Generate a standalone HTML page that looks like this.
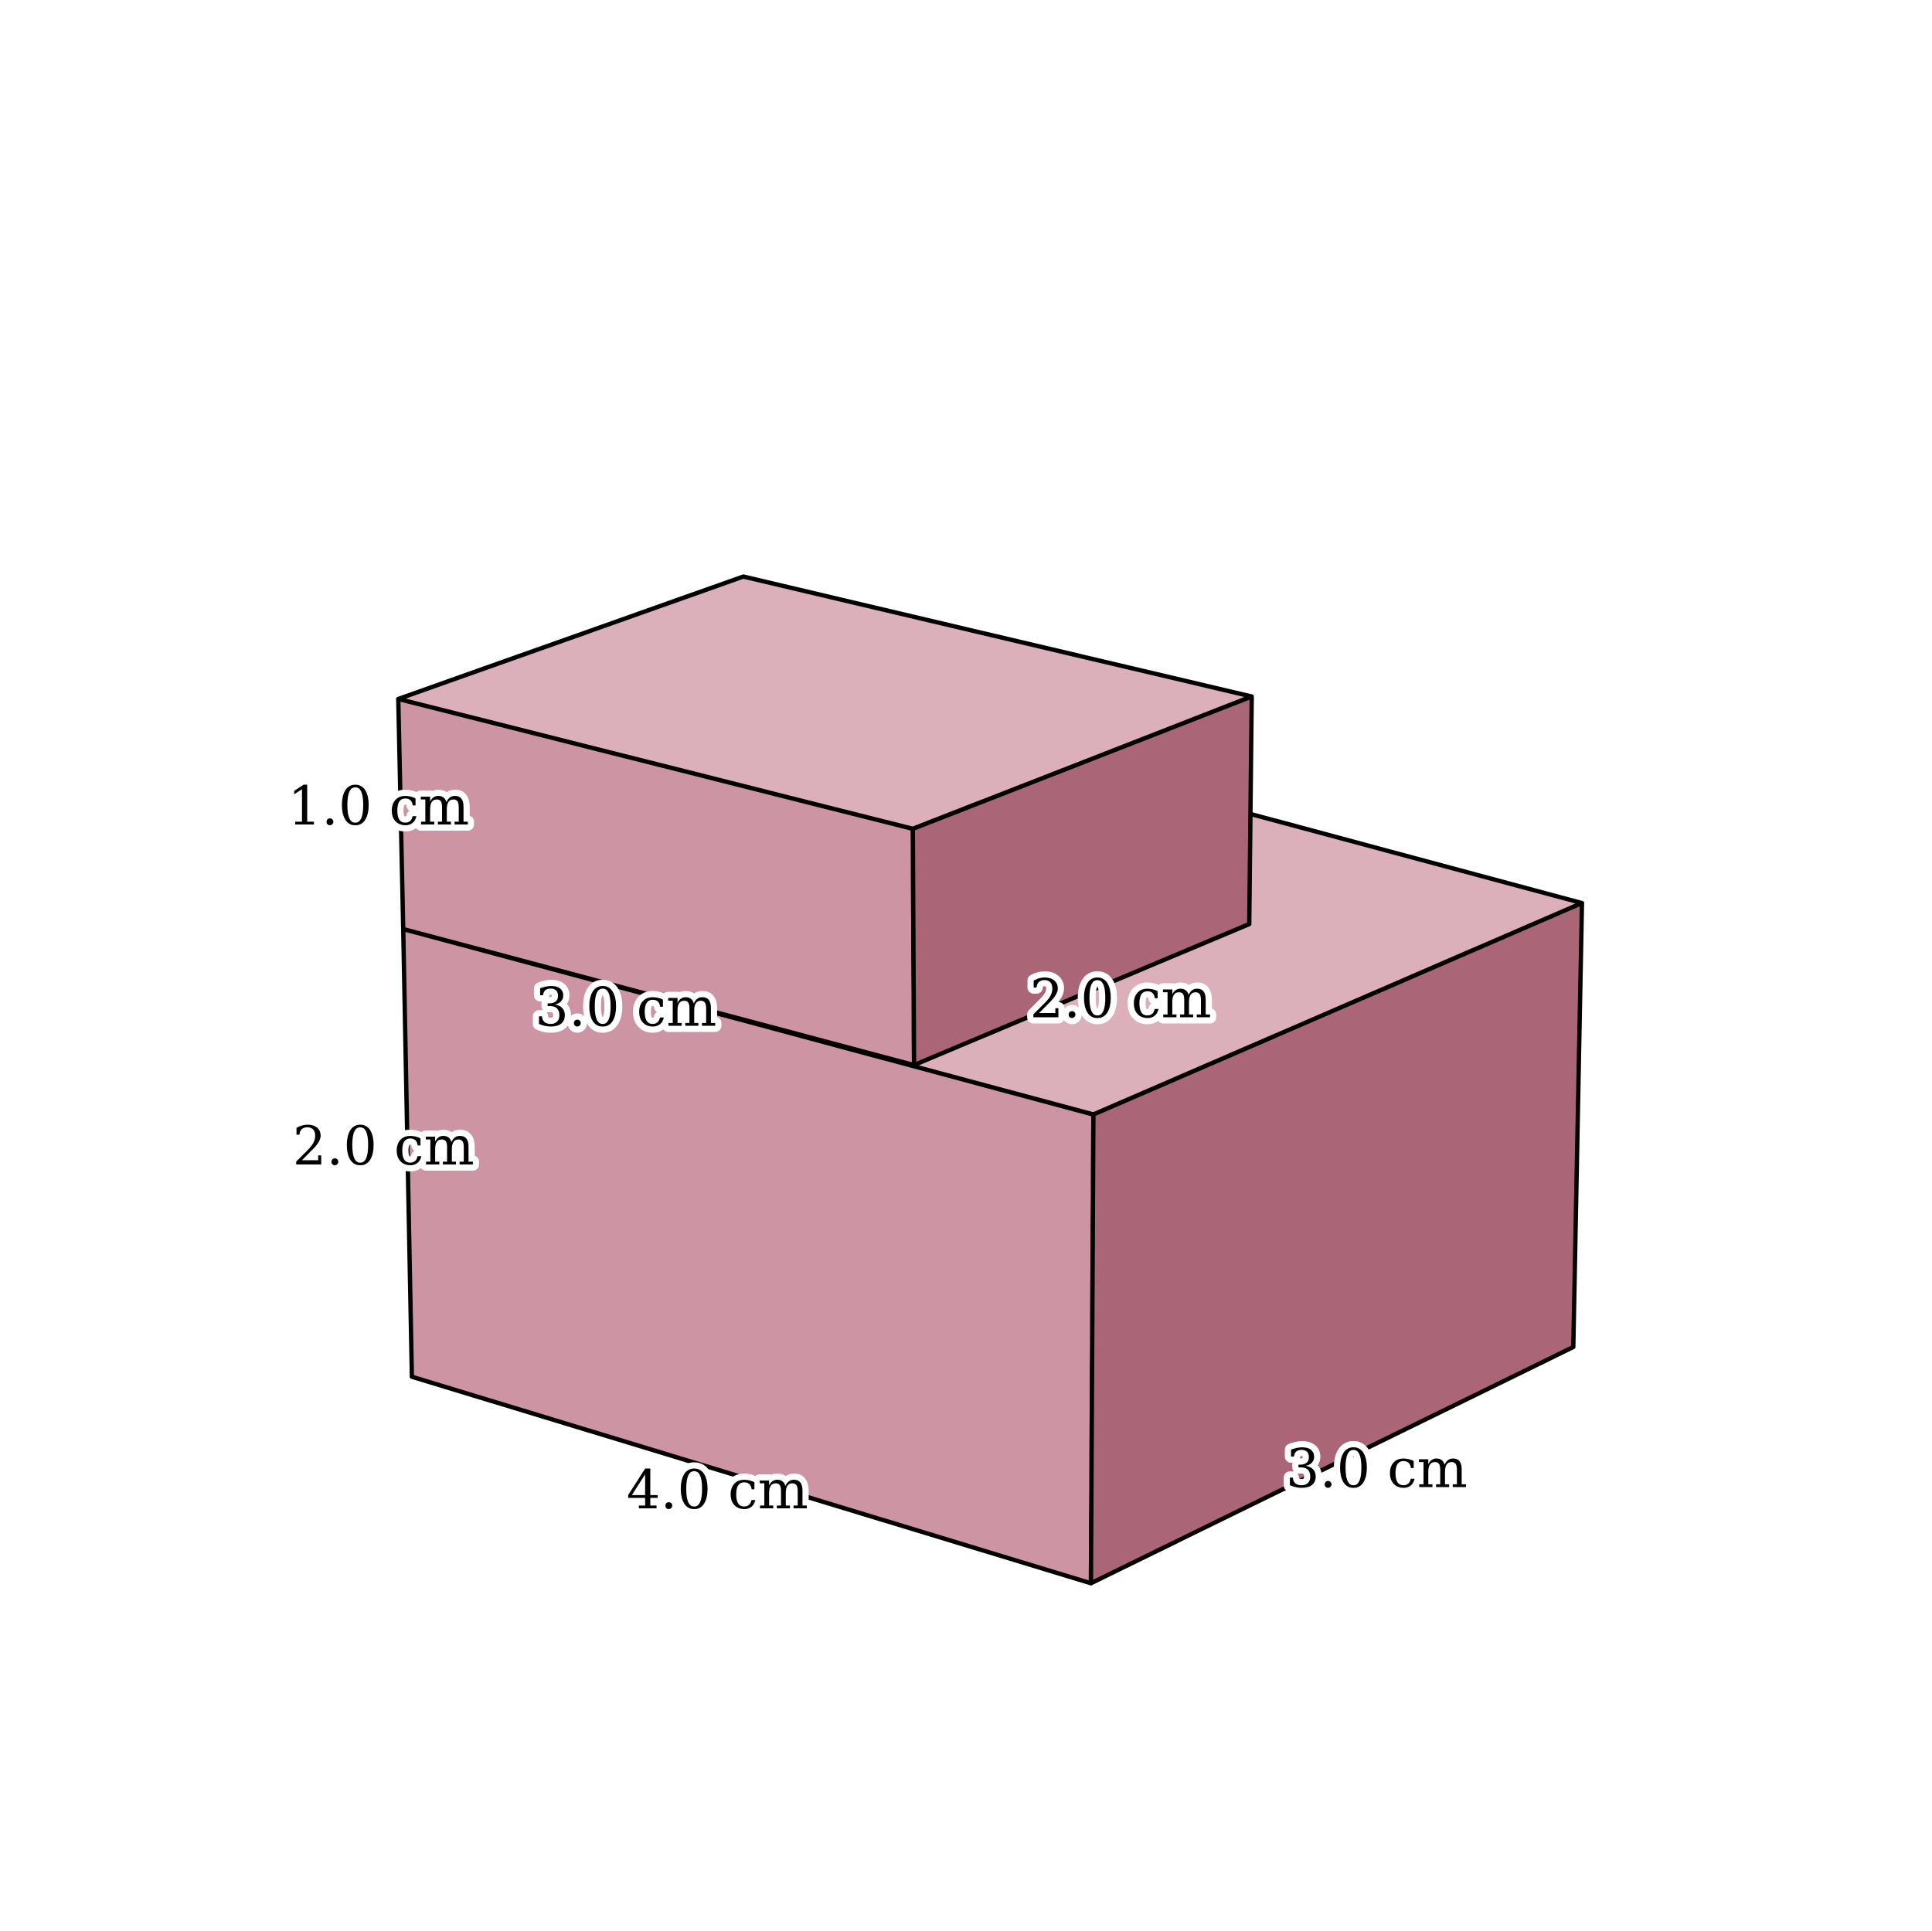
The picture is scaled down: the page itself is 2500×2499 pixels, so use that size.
<!DOCTYPE html>
<html><head><meta charset="utf-8"><style>
html,body{margin:0;padding:0;background:#fff;}
svg{display:block;}
text{font-family:"DejaVu Serif","Liberation Serif",serif;font-size:43px;fill:#000;stroke:#fff;stroke-width:10px;paint-order:stroke;stroke-linejoin:round;text-anchor:middle;dominant-baseline:central;}
</style></head><body>
<svg width="2500" height="2499" viewBox="0 0 1562 1561">
<g stroke="#000" stroke-width="3.5" stroke-linejoin="round">
<polygon fill="#dcb0bb" points="326,751 884,901 1279,730 721,580"/>
<polygon fill="#cd94a4" points="326,751 884,901 882,1280 333,1113"/>
<polygon fill="#aa6676" points="884,901 1279,730 1272,1089 882,1280"/>
<polygon fill="#dcb0bb" points="322,565 601,466 1012,563 738,670"/>
<polygon fill="#cd94a4" points="322,565 738,670 739,861 326,751"/>
<polygon fill="#aa6676" points="738,670 1012,563 1010,747 739,861"/>
</g>
<text x="306" y="652">1.0 cm</text>
<text x="506" y="815">3.0 cm</text>
<text x="906" y="808">2.0 cm</text>
<text x="310" y="927">2.0 cm</text>
<text x="580" y="1205">4.0 cm</text>
<text x="1113" y="1188">3.0 cm</text>
</svg>
</body></html>
